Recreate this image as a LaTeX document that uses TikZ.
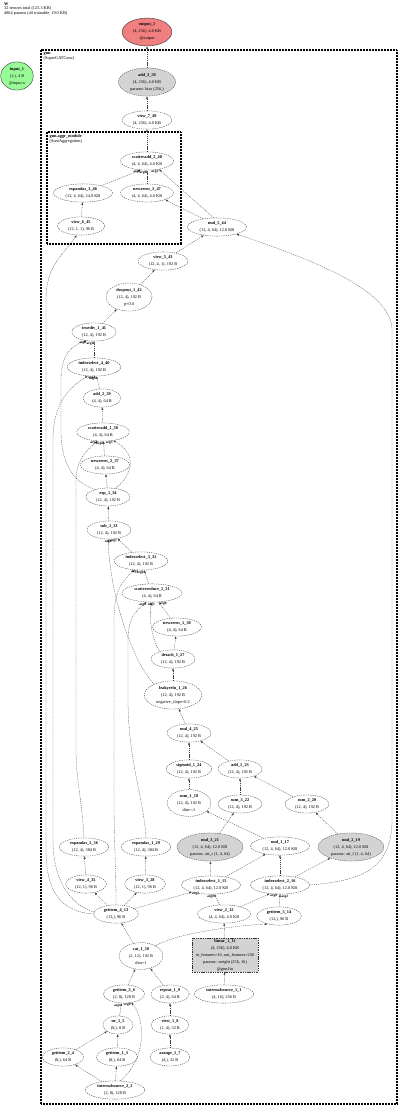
\documentclass[tikz,border=0pt]{standalone}
\usepackage{fontspec}
\setmainfont{Liberation Serif}
\usepackage{xcolor}
\usetikzlibrary{arrows.meta, shapes.geometric}

\definecolor{outpink}{RGB}{240,128,128}
\definecolor{inpgreen}{RGB}{152,251,152}
\definecolor{paramgray}{RGB}{211,211,211}

\begin{document}
\begin{tikzpicture}[
  x=1pt, y=-1pt,
  op/.style={ellipse, draw=black!80, dash pattern=on 1.4pt off 0.9pt, line width=0.3pt, fill=white, align=center, inner xsep=3.5pt, inner ysep=1pt, font=\fontsize{4.3}{7}\selectfont},
  parop/.style={op, fill=paramgray},
  lin/.style={op, rectangle, fill=paramgray, inner xsep=4pt},
  endop/.style={op, solid, line width=0.4pt},
  arr/.style={-{Latex[length=2.6pt, width=2pt]}, draw=black!75, line width=0.3pt, dash pattern=on 1.2pt off 0.9pt},
  lbl/.style={font=\fontsize{3.5}{4}\selectfont\bfseries, inner sep=0.4pt},
  modbox/.style={draw, line width=1.4pt, dash pattern=on 0.9pt off 0.6pt},
  modlabel/.style={anchor=north west, align=left, inner sep=0pt, font=\fontsize{4.3}{5}\selectfont}
]
\useasboundingbox (0,0) rectangle (400,1113);

% module boxes
\draw[modbox] (41,50) rectangle (397,1104);
\draw[modbox, line width=1.1pt] (47,132) rectangle (181,244);
\node[modlabel, font=\fontsize{4.3}{4.8}\selectfont] (header) at (4,2) {\textbf{W}\\32 tensors total (125.3 KB)\\4864 params (all trainable, 19.0 KB)};
\node[modlabel] (gnnlabel) at (43.5,52) {\textbf{gnn}\\(SuperGATConv)};
\node[modlabel] (aggrlabel) at (49.5,134) {\textbf{gnn.aggr\_module}\\(SumAggregation)};

% outputs and inputs
\node[endop, fill=outpink] (output1) at (147,32) {\textbf{output\_1}\\(4, 256), 4.0 KB\\@output};
\node[endop, fill=inpgreen] (input1) at (17,76) {\textbf{input\_1}\\(1,), 4 B\\@input.x};

% attention output and aggregation
\node[parop] (add350) at (147,82) {\textbf{add\_3\_50}\\(4, 256), 4.0 KB\\params: bias (256,)};
\node[op] (view749) at (147,120) {\textbf{view\_7\_49}\\(4, 256), 4.0 KB};
\node[op] (scatteradd248) at (147,161) {\textbf{scatteradd\_2\_48}\\(4, 4, 64), 4.0 KB};
\node[op] (expandas346) at (83,193) {\textbf{expandas\_3\_46}\\(12, 4, 64), 24.0 KB};
\node[op] (newzeros347) at (147,193) {\textbf{newzeros\_3\_47}\\(4, 4, 64), 4.0 KB};
\node[op] (view645) at (81,226) {\textbf{view\_6\_45}\\(12, 1, 1), 96 B};
\node[op] (mul544) at (217,227) {\textbf{mul\_5\_44}\\(12, 4, 64), 12.0 KB};
\node[op] (view543) at (163,261) {\textbf{view\_5\_43}\\(12, 4, 1), 192 B};
\node[op] (dropout142) at (129,297) {\textbf{dropout\_1\_42}\\(12, 4), 192 B\\p=0.0};

% softmax
\node[op] (truediv141) at (94,332) {\textbf{truediv\_1\_41}\\(12, 4), 192 B};
\node[op] (indexselect440) at (94,367) {\textbf{indexselect\_4\_40}\\(12, 4), 192 B};
\node[op] (add239) at (102,398) {\textbf{add\_2\_39}\\(4, 4), 64 B};
\node[op] (scatteradd138) at (103,432) {\textbf{scatteradd\_1\_38}\\(4, 4), 64 B};
\node[op] (newzeros237) at (105,465) {\textbf{newzeros\_2\_37}\\(4, 4), 64 B};
\node[op] (exp134) at (108,497) {\textbf{exp\_1\_34}\\(12, 4), 192 B};
\node[op] (sub133) at (109,530) {\textbf{sub\_1\_33}\\(12, 4), 192 B};
\node[op] (indexselect332) at (141,561) {\textbf{indexselect\_3\_32}\\(12, 4), 192 B};
\node[op] (scatterreduce131) at (152,593) {\textbf{scatterreduce\_1\_31}\\(4, 4), 64 B};
\node[op] (newzeros130) at (177,627) {\textbf{newzeros\_1\_30}\\(4, 4), 64 B};
\node[op] (detach127) at (173,659) {\textbf{detach\_1\_27}\\(12, 4), 192 B};
\node[op] (leakyrelu126) at (173,695) {\textbf{leakyrelu\_1\_26}\\(12, 4), 192 B\\negative\_slope=0.2};

% attention logits
\node[op] (mul425) at (189,733) {\textbf{mul\_4\_25}\\(12, 4), 192 B};
\node[op] (sigmoid124) at (189,769) {\textbf{sigmoid\_1\_24}\\(12, 4), 192 B};
\node[op] (add123) at (240,769) {\textbf{add\_1\_23}\\(12, 4), 192 B};
\node[op] (sum118) at (189,803) {\textbf{sum\_1\_18}\\(12, 4), 192 B\\dim=-1};
\node[op] (sum322) at (240,804) {\textbf{sum\_3\_22}\\(12, 4), 192 B};
\node[op] (sum220) at (307,804) {\textbf{sum\_2\_20}\\(12, 4), 192 B};
\node[op] (expandas236) at (84,847) {\textbf{expandas\_2\_36}\\(12, 4), 384 B};
\node[op] (expandas129) at (146,847) {\textbf{expandas\_1\_29}\\(12, 4), 384 B};
\node[parop] (mul321) at (210,847) {\textbf{mul\_3\_21}\\(12, 4, 64), 12.0 KB\\params: att\_r (1, 4, 64)};
\node[op] (mul117) at (280,846) {\textbf{mul\_1\_17}\\(12, 4, 64), 12.0 KB};
\node[parop] (mul219) at (351,847) {\textbf{mul\_2\_19}\\(12, 4, 64), 12.0 KB\\params: att\_l (1, 4, 64)};
\node[op] (view435) at (86,884) {\textbf{view\_4\_35}\\(12, 1), 96 B};
\node[op] (view328) at (145,884) {\textbf{view\_3\_28}\\(12, 1), 96 B};
\node[op] (indexselect115) at (211,885) {\textbf{indexselect\_1\_15}\\(12, 4, 64), 12.0 KB};
\node[op] (indexselect216) at (280,885) {\textbf{indexselect\_2\_16}\\(12, 4, 64), 12.0 KB};

% edge index and linear input
\node[op] (getitem413) at (116,914) {\textbf{getitem\_4\_13}\\(12,), 96 B};
\node[op] (view212) at (224,914) {\textbf{view\_2\_12}\\(4, 4, 64), 4.0 KB};
\node[op] (getitem514) at (279,916) {\textbf{getitem\_5\_14}\\(12,), 96 B};
\node[op] (cat110) at (141,956) {\textbf{cat\_1\_10}\\(2, 12), 192 B\\dim=1};
\node[lin] (linear111) at (225,955) {\textbf{linear\_1\_11}\\(4, 256), 4.0 KB\\in\_features=16, out\_features=256\\params: weight (256, 16)\\@gnn.lin};
\node[op] (getitem36) at (124,994) {\textbf{getitem\_3\_6}\\(2, 8), 128 B};
\node[op] (repeat19) at (170,994) {\textbf{repeat\_1\_9}\\(2, 4), 64 B};
\node[op] (internalsource11) at (224,994) {\textbf{internalsource\_1\_1}\\(4, 16), 256 B};
\node[op] (ne15) at (118,1025) {\textbf{ne\_1\_5}\\(8,), 8 B};
\node[op] (view18) at (170,1025) {\textbf{view\_1\_8}\\(1, 4), 32 B};
\node[op] (getitem24) at (63,1057) {\textbf{getitem\_2\_4}\\(8,), 64 B};
\node[op] (getitem13) at (117,1057) {\textbf{getitem\_1\_3}\\(8,), 64 B};
\node[op] (arange17) at (170,1057) {\textbf{arange\_1\_7}\\(4,), 32 B};
\node[op] (internalsource22) at (115,1090) {\textbf{internalsource\_2\_2}\\(2, 8), 128 B};

% edges, bottom up
\draw[arr] (internalsource22) -- (getitem24);
\draw[arr] (internalsource22) -- (getitem13);
\draw[arr] (getitem24) -- (ne15);
\draw[arr] (getitem13) -- (ne15);
\draw[arr] (ne15) -- (getitem36.255) node[lbl, pos=1, anchor=north east] {arg1};
\draw[arr] (internalsource22.60) .. controls (146,1060) and (146,1020) .. (getitem36.-50) node[lbl, pos=1, anchor=north east] {arg0};
\draw[arr] (arange17) -- (view18);
\draw[arr] (view18) -- (repeat19);
\draw[arr] (getitem36) -- (cat110);
\draw[arr] (repeat19) -- (cat110);
\draw[arr] (internalsource11) -- (linear111);
\draw[arr] (linear111) -- (view212);
\draw[arr] (cat110) -- (getitem413);
\draw[arr] (cat110.35) .. controls (175,934) and (230,926) .. (getitem514.215);

\draw[arr] (getitem413) -- (view435);
\draw[arr] (getitem413) -- (view328);
\draw[arr] (getitem413) -- (indexselect115.200) node[lbl, pos=1, anchor=north west] {arg2};
\draw[arr] (view212) -- (indexselect115.-70) node[lbl, pos=1, anchor=north east] {arg0};
\draw[arr] (view212) -- (indexselect216.220) node[lbl, pos=1, anchor=north west] {arg0};
\draw[arr] (getitem514) -- (indexselect216.south) node[lbl, pos=1, anchor=north west, xshift=0.8pt, yshift=-0.6pt] {arg2};
\draw[arr] (view435) -- (expandas236);
\draw[arr] (view328) -- (expandas129);
\draw[arr] (indexselect115) -- (mul321);
\draw[arr] (indexselect115) -- (mul117);
\draw[arr] (indexselect216) -- (mul117);
\draw[arr] (indexselect216) -- (mul219);
\draw[arr] (mul117) -- (sum118);
\draw[arr] (mul321) -- (sum322);
\draw[arr] (mul219) -- (sum220);
\draw[arr] (sum118) -- (sigmoid124);
\draw[arr] (sum322) -- (add123);
\draw[arr] (sum220) -- (add123);
\draw[arr] (sigmoid124) -- (mul425);
\draw[arr] (add123) -- (mul425);
\draw[arr] (mul425) -- (leakyrelu126);
\draw[arr] (leakyrelu126) -- (detach127);
\draw[arr] (detach127) -- (newzeros130);

% scatter max and softmax
\draw[arr] (expandas129.north) .. controls (144,800) and (128,760) .. (128,700) -- (128,640) .. controls (128,620) and (134,612) .. (scatterreduce131.240) node[lbl, pos=1, anchor=north east] {arg2};
\draw[arr] (detach127.150) .. controls (152,640) and (149,620) .. (scatterreduce131.265) node[lbl, pos=1, anchor=north, yshift=-0.4pt] {arg3};
\draw[arr] (newzeros130) -- (scatterreduce131) node[lbl, pos=1, anchor=north west, xshift=0.6pt] {arg0};
\draw[arr] (getitem413.north) .. controls (116,870) and (114,840) .. (114,800) -- (114,620) .. controls (114,592) and (121,582) .. (indexselect332.235) node[lbl, pos=1, anchor=north] {arg2};
\draw[arr] (scatterreduce131) -- (indexselect332) node[lbl, pos=1, anchor=north east] {arg0};
\draw[arr] (leakyrelu126.150) .. controls (135,665) and (110,600) .. (sub133.265) node[lbl, pos=1, anchor=north] {arg0};
\draw[arr] (indexselect332) -- (sub133.-45) node[lbl, pos=1, anchor=north east] {arg1};
\draw[arr] (sub133) -- (exp134);
\draw[arr] (exp134) -- (newzeros237);
\draw[arr] (expandas236.north) .. controls (82,800) and (76,780) .. (76,750) -- (76,482) .. controls (76,462) and (84,452) .. (scatteradd138.240) node[lbl, pos=1, anchor=north east] {arg2};
\draw[arr] (newzeros237) -- (scatteradd138) node[lbl, pos=1, anchor=north east] {arg0};
\draw[arr] (exp134.50) .. controls (130,478) and (140,455) .. (scatteradd138.-40) node[lbl, pos=1, anchor=north east] {arg3};
\draw[arr] (scatteradd138) -- (add239);
\draw[arr] (add239) -- (indexselect440) node[lbl, pos=1, anchor=north east] {arg0};
\draw[arr] (getitem413.175) .. controls (70,905) and (53,880) .. (53,840) -- (53,440) .. controls (53,400) and (72,386) .. (indexselect440.235) node[lbl, pos=1, anchor=north west] {arg2};
\draw[arr] (indexselect440) -- (truediv141) node[lbl, pos=1, anchor=north east] {arg1};
\draw[arr] (exp134.150) .. controls (72,482) and (61,462) .. (61,430) -- (61,380) .. controls (61,356) and (70,346) .. (truediv141.230) node[lbl, pos=1, anchor=north east] {arg0};
\draw[arr] (truediv141) -- (dropout142);
\draw[arr] (dropout142) -- (view543);
\draw[arr] (view543) -- (mul544);
\draw[arr] (indexselect216.east) .. controls (360,881) and (392,870) .. (392,820) -- (392,330) .. controls (392,292) and (320,262) .. (mul544.-20);

% aggregation
\draw[arr] (getitem413.west) .. controls (60,912) and (46,890) .. (46,850) -- (46,300) .. controls (46,266) and (62,256) .. (view645.245);
\draw[arr] (view645) -- (expandas346);
\draw[arr] (mul544.150) -- (newzeros347.-20);
\draw[arr] (expandas346) -- (scatteradd248.235) node[lbl, pos=1, anchor=north east] {arg2};
\draw[arr] (newzeros347) -- (scatteradd248) node[lbl, pos=1, anchor=north east] {arg0};
\draw[arr] (mul544.110) -- (scatteradd248.-35) node[lbl, pos=1, anchor=north east] {arg3};
\draw[arr] (scatteradd248) -- (view749);
\draw[arr] (view749) -- (add350);
\draw[arr] (add350) -- (output1);
\end{tikzpicture}
\end{document}
